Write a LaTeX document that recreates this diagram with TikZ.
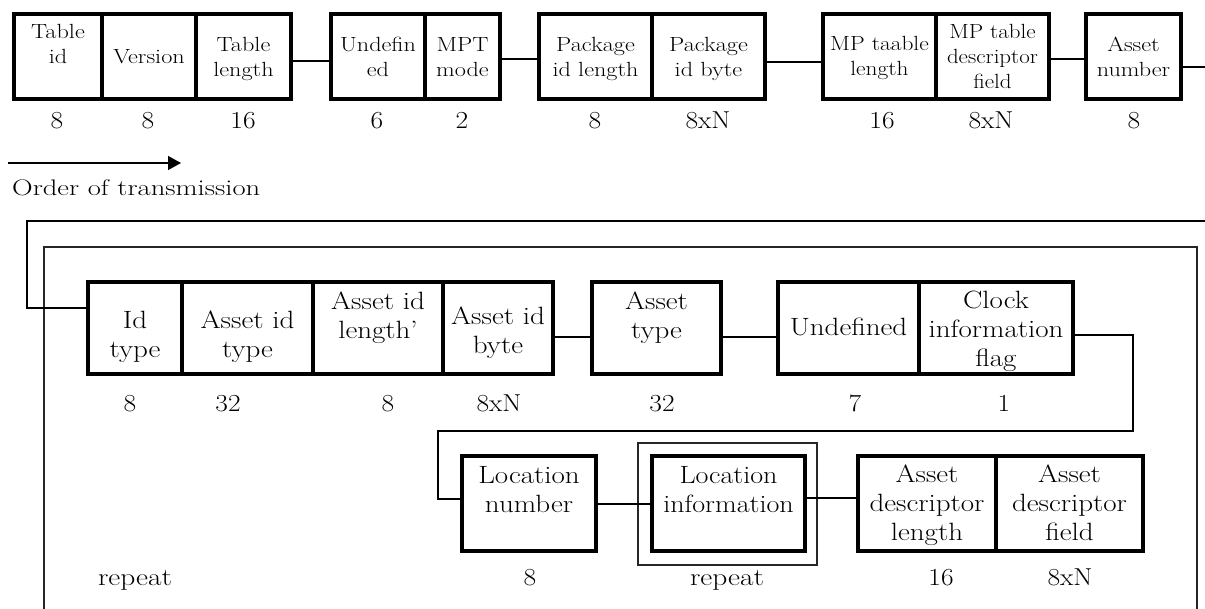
\documentclass[tikz,border=0pt]{standalone}
\usetikzlibrary{arrows.meta}

% a field of the bit layout: name, left, right, top, bottom (line centres)
\newcommand{\bitfield}[5]{%
  \node[field, minimum width={(#3-#2)*1pt}, minimum height={(#5-#4)*1pt}]
    (#1) at ({(#2+#3)/2},{(#4+#5)/2}) {};}
% broadened multi-line field label
\newcommand{\lbl}[2][1.16]{\scalebox{#1}[1]{\begin{tabular}{@{}c@{}}#2\end{tabular}}}
% broadened single-line text (keeps its baseline)
\newcommand{\wtxt}[2][1.12]{\scalebox{#1}[1]{#2}}

\begin{document}
\begin{tikzpicture}[x=1pt,y=-1pt,
  field/.style={draw, line width=4pt, inner sep=0pt},
  toptxt/.style={font=\fontsize{20.5}{25}\selectfont, inner sep=0pt},
  bottxt/.style={font=\fontsize{25}{29}\selectfont, inner sep=0pt},
  num/.style={font=\fontsize{24.5}{27}\selectfont, anchor=base, inner sep=0pt},
  wire/.style={line width=1.3pt},
  frame/.style={line width=1.4pt, draw=black!85}]

\fill[white] (0,0) rectangle (1205,608);
\clip (0,0) rectangle (1205,608);

% ---------------- header fields ----------------
\bitfield{tid}{14}{102}{14}{99}
\bitfield{ver}{102}{196}{14}{99}
\bitfield{tlen}{196}{291}{14}{99}
\bitfield{und}{331}{425}{14}{99}
\bitfield{mpt}{425}{500}{14}{99}
\bitfield{pil}{539}{652}{14}{99}
\bitfield{pib}{652}{765}{14}{99}
\bitfield{mpl}{823}{936}{14}{99}
\bitfield{mpd}{936}{1049}{14}{99}
\bitfield{anum}{1086}{1181}{14}{99}

\node[toptxt] (tid-t)  at (58,46)    {\lbl[1.18]{Table\\id}};
\node[toptxt] (ver-t)  at (149,58)   {\lbl[1.18]{Version}};
\node[toptxt] (tlen-t) at (243.5,59) {\lbl[1.18]{Table\\length}};
\node[toptxt] (und-t)  at (378,59)   {\lbl[1.18]{Undefin\\ed}};
\node[toptxt] (mpt-t)  at (462.5,59) {\lbl[1.18]{MPT\\mode}};
\node[toptxt] (pil-t)  at (595.5,59) {\lbl[1.18]{Package\\id length}};
\node[toptxt] (pib-t)  at (708.5,59) {\lbl[1.18]{Package\\id byte}};
\node[toptxt] (mpl-t)  at (879.5,58) {\lbl[1.14]{MP taable\\length}};
\node[toptxt] (mpd-t)  at (992.5,58) {\lbl[1.12]{MP table\\descriptor\\field}};
\node[toptxt] (anum-t) at (1133.5,59){\lbl[1.18]{Asset\\number}};

\node[num] (n1)  at (57,128)   {\wtxt{8}};
\node[num] (n2)  at (148,128)  {\wtxt{8}};
\node[num] (n3)  at (243,128)  {\wtxt{16}};
\node[num] (n4)  at (377,128)  {\wtxt{6}};
\node[num] (n5)  at (462,128)  {\wtxt{2}};
\node[num] (n6)  at (595,128)  {\wtxt{8}};
\node[num] (n7)  at (708,128)  {\wtxt{8xN}};
\node[num] (n8)  at (882,128)  {\wtxt{16}};
\node[num] (n9)  at (991,128)  {\wtxt{8xN}};
\node[num] (n10) at (1134,128) {\wtxt{8}};

\draw[wire] ([yshift=-4.5pt]tlen.east) -- ([yshift=-4.5pt]und.west);
\draw[wire] ([yshift=-2.5pt]mpt.east)  -- ([yshift=-2.5pt]pil.west);
\draw[wire] ([yshift=-5.5pt]pib.east)  -- ([yshift=-5.5pt]mpl.west);
\draw[wire] ([yshift=-2.5pt]mpd.east)  -- ([yshift=-2.5pt]anum.west);

% direction of transmission
\coordinate (otail) at (8,163);
\coordinate (ohead) at (181,163);
\draw[wire, -{Triangle[length=13pt,width=14pt]}] (otail) -- (ohead);
\node[font=\fontsize{22.5}{27}\selectfont, anchor=base west, inner sep=0pt]
  (order) at (12,195) {\wtxt[1.27]{Order of transmission}};

% ---------------- repeated asset loop ----------------
\draw[frame] (44,247) rectangle (1197,640);
\draw[frame] (638,443) rectangle (817,565);

\bitfield{idt}{88}{182}{282}{374}
\bitfield{ait}{182}{313}{282}{374}
\bitfield{ail}{313}{443}{282}{374}
\bitfield{aib}{443}{553}{282}{374}
\bitfield{aty}{592}{721}{282}{374}
\bitfield{undf}{778}{919}{282}{374}
\bitfield{clk}{919}{1073}{282}{374}

\node[bottxt] (idt-t)  at (135,337)   {\lbl{Id\\type}};
\node[bottxt] (ait-t)  at (247.5,337) {\lbl{Asset id\\type}};
\node[bottxt] (ail-t)  at (378,318)   {\lbl{Asset id\\length'}};
\node[bottxt] (aib-t)  at (498,333)   {\lbl{Asset id\\byte}};
\node[bottxt] (aty-t)  at (656.5,318) {\lbl{Asset\\type}};
\node[bottxt] (undf-t) at (848.5,330) {\lbl{Undefined}};
\node[bottxt] (clk-t)  at (996,332)   {\lbl{Clock\\information\\flag}};

\node[num] (m1) at (130,411)  {\wtxt{8}};
\node[num] (m2) at (228,411)  {\wtxt{32}};
\node[num] (m3) at (388,411)  {\wtxt{8}};
\node[num] (m4) at (499,411)  {\wtxt{8xN}};
\node[num] (m5) at (662,411)  {\wtxt{32}};
\node[num] (m6) at (855,411)  {\wtxt{7}};
\node[num] (m7) at (1004,411) {\wtxt{1}};

\bitfield{locn}{462}{596}{456}{551}
\bitfield{loci}{652}{805}{456}{551}
\bitfield{adl}{858}{996}{456}{551}
\bitfield{adf}{996}{1143}{456}{551}

\node[bottxt] (locn-t) at (529,492)    {\lbl{Location\\number}};
\node[bottxt] (loci-t) at (728.5,492)  {\lbl[1.12]{Location\\information}};
\node[bottxt] (adl-t)  at (927,506)    {\lbl{Asset\\descriptor\\length}};
\node[bottxt] (adf-t)  at (1069.5,506) {\lbl{Asset\\descriptor\\field}};

\node[num] (r1) at (135,585)  {\wtxt[1.2]{repeat}};
\node[num] (r2) at (530,585)  {\wtxt{8}};
\node[num] (r3) at (727,585)  {\wtxt[1.2]{repeat}};
\node[num] (r4) at (941,585)  {\wtxt{16}};
\node[num] (r5) at (1070,585) {\wtxt{8xN}};

% wrap from the header into the loop
\coordinate (wrapA) at (1208,67);
\coordinate (wrapB) at (1208,221);
\coordinate (wrapC) at (27,221);
\draw[wire] ([yshift=-10.5pt]anum.east) -- (wrapA) -- (wrapB) -- (wrapC)
  |- ([yshift=20pt]idt.west);

\draw[wire] ([yshift=-9pt]aib.east) -- ([yshift=-9pt]aty.west);
\draw[wire] ([yshift=-9pt]aty.east) -- ([yshift=-9pt]undf.west);

\coordinate (turnA) at (1133,431);
\coordinate (turnB) at (438,499);
\draw[wire] ([yshift=-7pt]clk.east) -| (turnA) -| (turnB)
  -- ([yshift=4.5pt]locn.west);

\draw[wire] ([yshift=-0.5pt]locn.east) -- ([yshift=-0.5pt]loci.west);
\draw[wire] ([yshift=5.5pt]loci.east) -- ([yshift=5.5pt]adl.west);

\end{tikzpicture}
\end{document}
